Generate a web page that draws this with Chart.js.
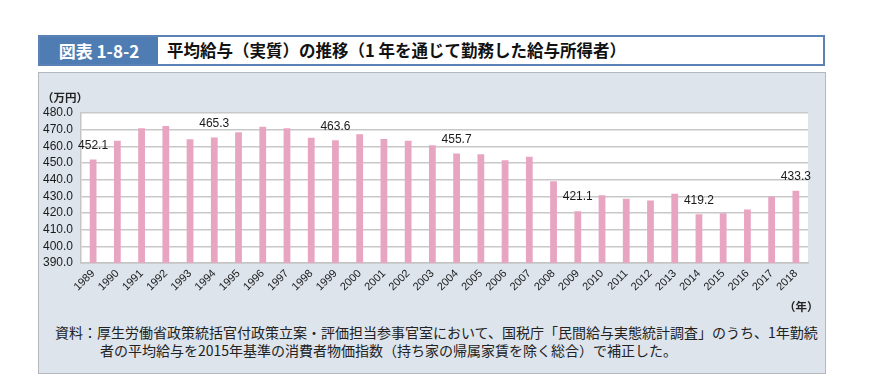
<!DOCTYPE html>
<html lang="ja">
<head>
<meta charset="utf-8">
<script src="https://cdn.jsdelivr.net/npm/chart.js@4/dist/chart.umd.min.js"></script>
<style>
  html, body { margin: 0; padding: 0; background: #fff; width: 870px; height: 389px; overflow: hidden; }
  body { position: relative; font-family: "Noto Sans CJK JP", "Noto Sans", sans-serif; }
  .title-bar { position: absolute; left: 38px; top: 35px; width: 787px; height: 31px; box-sizing: border-box;
    border: 2px solid #5b82b4; background: #fff; }
  .title-num { position: absolute; left: 0; top: 0; width: 118px; height: 27px; background: #4f7db3; color: #fff;
    font-weight: bold; font-size: 17px; line-height: 27px; text-align: center; }
  .title-text { position: absolute; left: 127px; top: 0; height: 27px; line-height: 27px; font-weight: bold;
    font-size: 16.5px; color: #111; white-space: nowrap; }
  .panel { position: absolute; left: 38px; top: 72px; width: 788px; height: 302px; box-sizing: border-box;
    background: #dde4ec; border: 1px solid #b4b8bc; }
  #chart { position: absolute; left: 38px; top: 72px; }
  .unit-y { position: absolute; left: 42px; top: 89px; font-size: 11.5px; font-weight: bold; color: #222; }
  .unit-x { position: absolute; left: 784px; top: 298px; font-size: 11.5px; font-weight: bold; color: #222; }
  .note { position: absolute; left: 55px; top: 323px; font-size: 14px; line-height: 18px; color: #222; white-space: nowrap; }
  .note .indent { padding-left: 45px; }
</style>
</head>
<body>
<div class="title-bar">
  <div class="title-num">図表 1-8-2</div>
  <div class="title-text">平均給与（実質）の推移（1 年を通じて勤務した給与所得者）</div>
</div>
<div class="panel"></div>
<canvas id="chart" width="788" height="240"></canvas>
<div class="unit-y">（万円）</div>
<div class="unit-x">（年）</div>
<div class="note">資料：厚生労働省政策統括官付政策立案・評価担当参事官室において、国税庁「民間給与実態統計調査」のうち、1年勤続<br><span class="indent">者の平均給与を2015年基準の消費者物価指数（持ち家の帰属家賃を除く総合）で補正した。</span></div>

<script>
// years on the x axis
const years = ['1989', '1990', '1991', '1992', '1993', '1994', '1995', '1996', '1997', '1998',
  '1999', '2000', '2001', '2002', '2003', '2004', '2005', '2006', '2007', '2008',
  '2009', '2010', '2011', '2012', '2013', '2014', '2015', '2016', '2017', '2018'];

// average salary (real), 万円
const salary = [452.1, 463.4, 470.8, 472.2, 464.2, 465.3, 468.4, 471.8, 470.8, 465.2,
  463.6, 467.2, 464.4, 463.4, 460.6, 455.7, 455.2, 451.7, 453.7, 439.1,
  421.1, 430.6, 428.5, 427.5, 431.5, 419.2, 419.9, 422.1, 429.9, 433.3];

// years that carry a value label
const labeledYears = ['1989', '1994', '1999', '2004', '2009', '2014', '2018'];

// y axis range
const yMin = 390;
const yMax = 480;
const yStep = 10;

// white plot background
const plotBackground = {
  id: 'plotBackground',
  beforeDraw(chart) {
    const { ctx, chartArea } = chart;
    ctx.save();
    ctx.fillStyle = '#ffffff';
    ctx.fillRect(chartArea.left, chartArea.top, chartArea.right - chartArea.left, chartArea.bottom - chartArea.top);
    ctx.restore();
  }
};

// value labels above some bars
const valueLabels = {
  id: 'valueLabels',
  afterDatasetsDraw(chart) {
    const { ctx } = chart;
    const meta = chart.getDatasetMeta(0);
    ctx.save();
    ctx.font = '12px "Liberation Sans", Arial, sans-serif';
    ctx.fillStyle = '#1a1a1a';
    ctx.textAlign = 'center';
    ctx.textBaseline = 'middle';
    years.forEach((y, i) => {
      if (labeledYears.includes(y)) {
        const bar = meta.data[i];
        ctx.fillText(salary[i].toFixed(1), bar.x, bar.y - 14);
      }
    });
    ctx.restore();
  }
};

Chart.defaults.font.family = '"Liberation Sans", Arial, sans-serif';
Chart.defaults.color = '#1a1a1a';

new Chart(document.getElementById('chart').getContext('2d'), {
  type: 'bar',
  data: {
    labels: years,
    datasets: [{
      data: salary,
      backgroundColor: '#e8a5c2',
      barPercentage: 0.28,
      categoryPercentage: 1.0
    }]
  },
  options: {
    responsive: false,
    animation: false,
    layout: { padding: { top: 41, right: 18, left: 0, bottom: 0 } },
    plugins: { legend: { display: false }, tooltip: { enabled: false } },
    scales: {
      x: {
        grid: { display: false, drawTicks: false },
        border: { color: '#c4c4c4', width: 1.5 },
        ticks: { font: { size: 11 }, color: '#1a1a1a', minRotation: 45, maxRotation: 45, padding: 4, autoSkip: false },
        afterFit(scale) { scale.height = 49; }
      },
      y: {
        min: yMin,
        max: yMax,
        grid: { color: '#c8c8c8', lineWidth: 1.5, drawTicks: false },
        border: { color: '#c4c4c4', width: 1.5 },
        ticks: { stepSize: yStep, autoSkip: false, font: { size: 12 }, color: '#1a1a1a', padding: 8,
          callback: (v) => v.toFixed(1) },
        afterFit(scale) { scale.width = 43; }
      }
    }
  },
  plugins: [plotBackground, valueLabels]
});
</script>
</body>
</html>
